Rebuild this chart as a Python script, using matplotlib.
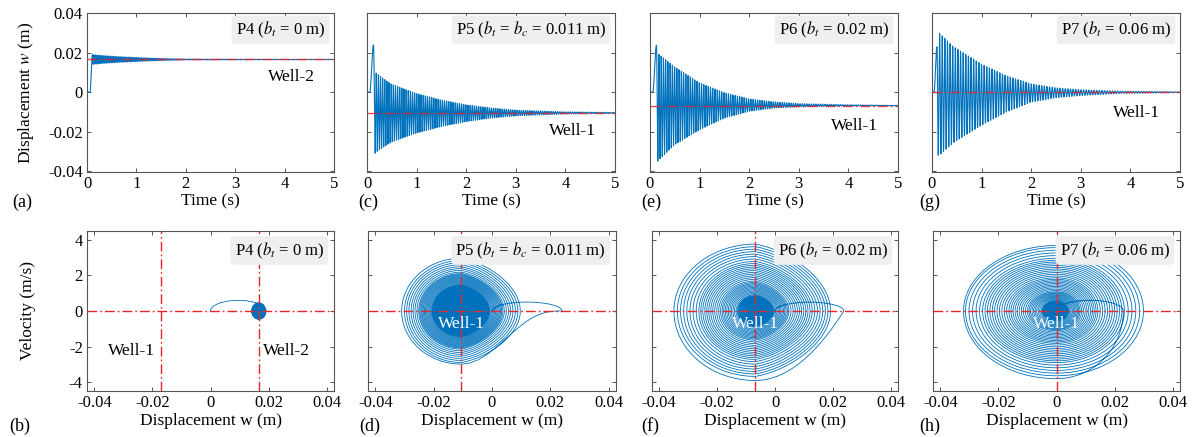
import numpy as np
import matplotlib
matplotlib.use('Agg')
import matplotlib.pyplot as plt
from matplotlib.ticker import FuncFormatter

plt.rcParams['font.family'] = ['Liberation Serif', 'DejaVu Serif']
plt.rcParams['mathtext.fontset'] = 'stix'
plt.rcParams['axes.unicode_minus'] = False

# ---- values ----
tags = ['P4 ($b_t$ = 0 m)', 'P5 ($b_t$ = $b_c$ = 0.011 m)',
        'P6 ($b_t$ = 0.02 m)', 'P7 ($b_t$ = 0.06 m)']
top_letters = ['(a)', '(c)', '(e)', '(g)']
bottom_letters = ['(b)', '(d)', '(f)', '(h)']
top_well_names = ['Well-2', 'Well-1', 'Well-1', 'Well-1']

well_w = [0.0166, -0.0105, -0.0068, 0.0]      # equilibrium (red lines)
well1_p4 = -0.0169                             # Well-1 line in (b)
t_start = [0.06, 0.055, 0.055, 0.04]           # motion starts (s)
tip_w = [0.0191, 0.024, 0.0238, 0.023]         # first excursion (m)
ramp_time = [0.05, 0.075, 0.075, 0.06]         # duration of that excursion (s)
omega = [190.0, 146.0, 139.0, 119.0]           # rad/s, from velocity / amplitude
tongue_q = [1, 6, 2, 1]                        # slowness of the first release
tongue_stretch = [1.0, 2.2, 1.4, 1.0]
egg = [0.0, 0.2, 0.2, 0.0]                     # narrowing of the right half of the orbits

env_t_p4 = [0.1, 0.3, 0.6, 1.0, 1.5, 2.0, 5.0]
env_up_p4 = [0.0191, 0.0186, 0.0181, 0.0176, 0.0171, 0.0168, 0.0166]
env_lo_p4 = [0.0141, 0.0146, 0.0151, 0.0156, 0.0161, 0.0164, 0.0166]

env_t_p5 = [0.15, 0.35, 0.5, 1.0, 1.5, 2.0, 2.5, 3.0, 4.0, 5.0]
env_up_p5 = [0.0104, 0.0065, 0.0040, -0.0007, -0.0040, -0.0064, -0.0080, -0.0091, -0.0100, -0.0103]
env_lo_p5 = [-0.0310, -0.0275, -0.0252, -0.0207, -0.0174, -0.0149, -0.0131, -0.0120, -0.0110, -0.0107]

env_t_p6 = [0.15, 0.5, 1.0, 1.5, 2.0, 2.5, 3.0, 4.0, 5.0]
env_up_p6 = [0.0198, 0.0128, 0.0047, -0.0003, -0.0034, -0.0049, -0.0058, -0.0064, -0.0067]
env_lo_p6 = [-0.0350, -0.0266, -0.0190, -0.0131, -0.0097, -0.0080, -0.0074, -0.0070, -0.0069]

env_t_p7 = [0.15, 0.42, 1.0, 1.5, 2.0, 2.5, 3.0, 3.8, 5.0]
env_up_p7 = [0.0300, 0.0233, 0.0142, 0.0083, 0.0042, 0.0022, 0.0012, 0.0005, 0.0002]
env_lo_p7 = [-0.0320, -0.0258, -0.0167, -0.0100, -0.0050, -0.0028, -0.0017, -0.0006, -0.0002]

env_t = [env_t_p4, env_t_p5, env_t_p6, env_t_p7]
env_up = [env_up_p4, env_up_p5, env_up_p6, env_up_p7]
env_lo = [env_lo_p4, env_lo_p5, env_lo_p6, env_lo_p7]

# text spots (data coords)
top_text_xy = [(4.13, 0.0076), (4.15, -0.0198), (4.13, -0.0173), (4.13, -0.0105)]
phase_text_v = -0.75

BLUE = '#0072BD'
RED = '#e5262b'
DASHDOT = (0, (7, 2.2, 1.2, 2.2))


def build_response(k, t_end=5.0, n=20):
    we = well_w[k]
    e = egg[k]
    t_parts = [np.array([0.0, t_start[k]])]
    w_parts = [np.array([0.0, 0.0])]
    v_parts = [np.array([0.0, 0.0])]
    # slow first excursion up to the tip
    s = np.linspace(0, 1, 60)
    t_parts.append(t_start[k] + s * ramp_time[k])
    w_parts.append(tip_w[k] * (1 - np.cos(np.pi * s)) / 2)
    v_parts.append(tip_w[k] * np.pi / (2 * ramp_time[k]) * np.sin(np.pi * s))

    def upper(t):
        return np.interp(t, env_t[k], env_up[k]) - we

    def lower(t):
        return we - np.interp(t, env_t[k], env_lo[k])

    tc = t_start[k] + ramp_time[k]
    side = 1
    a_prev = tip_w[k] - we
    first = True
    phi = np.linspace(0, np.pi / 2, n)[1:]
    quarter = np.pi / 2 / omega[k]
    while tc < t_end:
        t_mid = tc + 2 * quarter
        a_next = lower(t_mid) if side > 0 else upper(t_mid)
        a_next = max(a_next, 1e-7)
        if first:
            vm = omega[k] * a_next
            shape1 = np.sin(phi) ** tongue_q[k]
            dt1 = quarter * tongue_stretch[k]
        else:
            vm = omega[k] * (a_prev + a_next) / 2
            shape1 = np.sin(phi) * ((1 - e * np.cos(phi)) if side > 0 else 1.0)
            dt1 = quarter
        # turning point -> crossing
        t_parts.append(tc + phi / (np.pi / 2) * dt1)
        w_parts.append(we + side * a_prev * np.cos(phi))
        v_parts.append(-side * vm * shape1)
        tc += dt1
        # crossing -> next turning point
        shape2 = np.cos(phi) * ((1 - e * np.sin(phi)) if side < 0 else 1.0)
        t_parts.append(tc + phi / (np.pi / 2) * quarter)
        w_parts.append(we - side * a_next * np.sin(phi))
        v_parts.append(-side * vm * shape2)
        tc += quarter
        side = -side
        a_prev = a_next
        first = False
    return np.concatenate(t_parts), np.concatenate(w_parts), np.concatenate(v_parts)


def fmt(x, pos):
    return '%g' % round(x, 4)


def style_axes(ax):
    for sp in ax.spines.values():
        sp.set_color('#555555')
        sp.set_linewidth(0.8)
    ax.tick_params(direction='in', top=True, right=True, length=3,
                   width=0.7, color='#555555', labelsize=12, pad=3)


fig = plt.figure(figsize=(11.92, 4.37), dpi=100)
W, H = 1192.0, 437.0
top_x = [(87, 334), (367, 615), (650, 898), (932, 1180)]
bot_x = [(87, 334), (368, 616), (652, 898), (933, 1180)]
top_letter_x = [22, 368, 651, 930]
bot_letter_x = [20, 370, 650, 930]

for k in range(4):
    t, w, v = build_response(k)
    we = well_w[k]

    # ---- time history ----
    x0, x1 = top_x[k]
    ax = fig.add_axes([x0 / W, 1 - 172 / H, (x1 - x0) / W, 159 / H])
    ax.plot(t, w, color=BLUE, lw=0.8, zorder=2)
    ax.axhline(we, color=RED, lw=1.0, ls=DASHDOT, alpha=0.85, zorder=3)
    ax.set_xlim(0, 5)
    ax.set_ylim(-0.0405, 0.0402)
    ax.set_xticks([0, 1, 2, 3, 4, 5])
    ax.set_yticks([-0.04, -0.02, 0, 0.02, 0.04])
    ax.yaxis.set_major_formatter(FuncFormatter(fmt))
    style_axes(ax)
    if k == 0:
        ax.set_ylabel('Displacement $w$ (m)', fontsize=12.5)
        ax.yaxis.set_label_coords(-0.205, 0.5)
    else:
        ax.tick_params(labelleft=False)
    ax.set_xlabel('Time (s)', fontsize=12.5, labelpad=1)
    ax.text(0.965, 0.893, tags[k], transform=ax.transAxes, ha='right', va='center',
            fontsize=12, bbox=dict(boxstyle='round,pad=0.25', fc='#efefef', ec='none'),
            zorder=5)
    tx, ty = top_text_xy[k]
    ax.text(tx, ty, top_well_names[k], ha='center', va='center', fontsize=12.5, zorder=5)
    fig.text(top_letter_x[k] / W, 1 - 202 / H, top_letters[k], ha='center', va='center',
             fontsize=13)

    # ---- phase portrait ----
    x0, x1 = bot_x[k]
    ax = fig.add_axes([x0 / W, 1 - 391 / H, (x1 - x0) / W, 160 / H])
    ax.plot(w, v, color=BLUE, lw=0.6, zorder=2)
    ax.axhline(0, color=RED, lw=1.0, ls=DASHDOT, zorder=3)
    ax.axvline(we, color=RED, lw=1.0, ls=DASHDOT, zorder=3)
    ax.set_xlim(-0.0425, 0.0425)
    ax.set_ylim(-4.5, 4.5)
    ax.set_xticks([-0.04, -0.02, 0, 0.02, 0.04])
    ax.set_yticks([-4, -2, 0, 2, 4])
    ax.xaxis.set_major_formatter(FuncFormatter(fmt))
    style_axes(ax)
    if k == 0:
        ax.axvline(well1_p4, color=RED, lw=1.0, ls=DASHDOT, zorder=3)
        ax.set_ylabel('Velocity (m/s)', fontsize=12.5)
        ax.yaxis.set_label_coords(-0.205, 0.5)
        ax.text(-0.0271, -2.27, 'Well-1', ha='center', va='center', fontsize=12.5)
        ax.text(0.0262, -2.27, 'Well-2', ha='center', va='center', fontsize=12.5)
    else:
        ax.tick_params(labelleft=False)
        ax.text(we, phase_text_v, 'Well-1', ha='center', va='center', fontsize=12.5,
                color='white', zorder=5)
    ax.set_xlabel('Displacement w (m)', fontsize=12.5, labelpad=1)
    ax.text(0.96, 0.878, tags[k], transform=ax.transAxes, ha='right', va='center',
            fontsize=12, bbox=dict(boxstyle='round,pad=0.25', fc='#efefef', ec='none'),
            zorder=5)
    fig.text(bot_letter_x[k] / W, 1 - 426 / H, bottom_letters[k], ha='center', va='center',
             fontsize=13)

fig.savefig('out.png', dpi=100)
